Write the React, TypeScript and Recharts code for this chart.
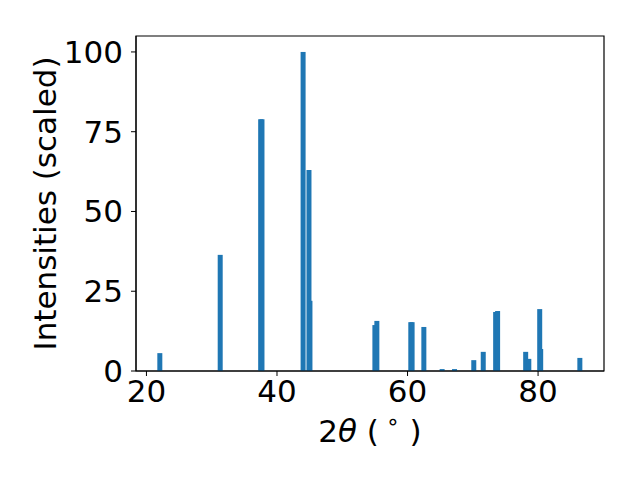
import { BarChart, Bar, XAxis, YAxis, ReferenceArea } from 'recharts';

// peak positions (2θ, degrees) and scaled intensities
const twoTheta = [
  22.05, 31.3, 37.5, 37.7, 44.0, 45.05, 44.9, 55.0, 55.3, 60.5, 60.7, 62.5,
  65.3, 67.2, 70.15, 71.6, 73.5, 73.8, 78.1, 78.58, 80.4, 80.25, 86.4,
];
const intensity = [
  5.6, 36.4, 78.9, 78.9, 100, 22, 63, 14.4, 15.7, 15.3, 15.3, 13.8,
  0.6, 0.6, 3.4, 6.0, 18.5, 18.8, 6.0, 3.8, 6.9, 19.4, 4.1,
];
const xTicks = [20, 40, 60, 80];
const yTicks = [0, 25, 50, 75, 100];
const xDomain: [number, number] = [18.4, 90.1];
const yDomain: [number, number] = [0, 105];

const data = twoTheta.map((x, i) => ({ x, y: intensity[i] }));

const FONT = 'DejaVu Sans';
const FS = 31;
const tickStyle = { fontSize: FS, fill: '#000', fontFamily: FONT };
const BAR_W = 5;

// recharts squeezes bars on a numeric axis to the smallest gap, so widen them around their centre
function PeakBar(props: any) {
  const { x, y, width, height, fill } = props;
  if (!height || height <= 0) return null;
  const cx = x + width / 2;
  return <rect x={cx - BAR_W / 2} y={y} width={BAR_W} height={height} fill={fill} />;
}

function XLabel({ viewBox }: any) {
  const cx = viewBox.x + viewBox.width / 2;
  return (
    <text x={cx} y={viewBox.y + 71} textAnchor="middle" fontSize={FS} fontFamily={FONT} fill="#000">
      2<tspan fontStyle="italic">θ</tspan> (
      <tspan fontSize={22} dy={-13}> ∘</tspan>
      <tspan dy={13}> )</tspan>
    </text>
  );
}

function YLabel({ viewBox }: any) {
  const cy = viewBox.y + viewBox.height / 2;
  const x = 56;
  return (
    <text x={x} y={cy} transform={`rotate(-90 ${x} ${cy})`} textAnchor="middle" fontSize={FS} fontFamily={FONT} fill="#000">
      Intensities (scaled)
    </text>
  );
}

export default function App() {
  return (
    <div style={{ position: 'absolute', left: 0, top: 0, background: '#fff' }}>
      <BarChart width={640} height={480} data={data} margin={{ top: 36, right: 36, bottom: 49, left: 36 }}>
        <XAxis
          dataKey="x"
          type="number"
          domain={xDomain}
          ticks={xTicks}
          allowDataOverflow
          tick={tickStyle}
          tickSize={5}
          tickMargin={4}
          height={60}
          stroke="#000"
          tickLine={{ stroke: '#000' }}
          label={<XLabel />}
        />
        <YAxis
          type="number"
          domain={yDomain}
          ticks={yTicks}
          allowDataOverflow
          tick={tickStyle}
          tickSize={5}
          tickMargin={8}
          width={100}
          stroke="#000"
          tickLine={{ stroke: '#000' }}
          label={<YLabel />}
        />
        <Bar dataKey="y" fill="#1f77b4" shape={<PeakBar />} isAnimationActive={false} />
        <ReferenceArea x1={xDomain[0]} x2={xDomain[1]} y1={yDomain[0]} y2={yDomain[1]} fill="none" stroke="#000" strokeWidth={1.2} fillOpacity={0} />
      </BarChart>
    </div>
  );
}
